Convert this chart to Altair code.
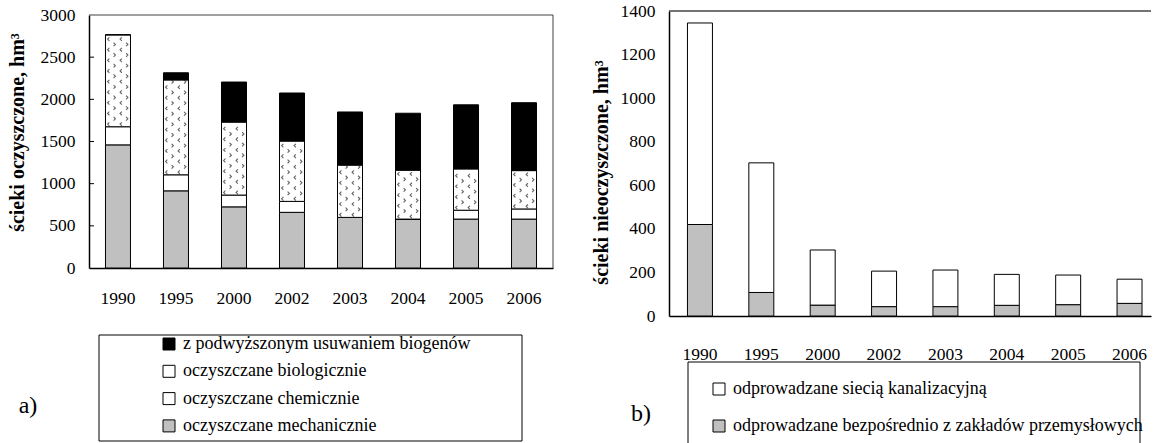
import altair as alt
import pandas as pd

# Lata i serie (hm3)
years = ["1990", "1995", "2000", "2002", "2003", "2004", "2005", "2006"]

# a) ścieki oczyszczone
mechaniczne = [1460, 915, 725, 660, 600, 580, 580, 580]
chemiczne = [215, 190, 140, 130, 0, 0, 105, 120]
biologiczne = [1090, 1125, 865, 715, 620, 580, 490, 455]
biogeny = [0, 85, 475, 570, 630, 675, 760, 805]

# b) ścieki nieoczyszczone
bezposrednio = [420, 108, 50, 43, 43, 49, 52, 58]
kanalizacja = [925, 595, 253, 163, 168, 142, 136, 111]

labels_a = [
    "z podwyższonym usuwaniem biogenów",
    "oczyszczane biologicznie",
    "oczyszczane chemicznie",
    "oczyszczane mechanicznie",
]
labels_b = [
    "odprowadzane siecią kanalizacyjną",
    "odprowadzane bezpośrednio z zakładów przemysłowych",
]
ticks_a = [0, 500, 1000, 1500, 2000, 2500, 3000]
ticks_b = [0, 200, 400, 600, 800, 1000, 1200, 1400]

FONT = "Liberation Serif"
GRAY = "#c0c0c0"
H_A, TOP_A = 257, 4   # panel a: view height and the inset of its 3000 line

# ---------- panel a ----------
series_a = [
    (labels_a[3], mechaniczne, 0),
    (labels_a[2], chemiczne, 1),
    (labels_a[1], biologiczne, 2),
    (labels_a[0], biogeny, 3),
]
df_a = pd.DataFrame(
    [{"rok": r, "rodzaj": name, "hm3": vals[i], "poz": p}
     for name, vals, p in series_a for i, r in enumerate(years)]
)

# chevron texture inside the "biologicznie" segments:
# rows of "<" alternate with rows of ">" shifted half a column
tex = []
step = 63
for i, r in enumerate(years):
    lo = mechaniczne[i] + chemiczne[i]
    hi = lo + biologiczne[i]
    v, k = lo + step / 2, 0
    while v < hi - step / 3:
        for kol in ([0, 1] if k % 2 == 0 else [2, 3]):
            tex.append({"rok": r, "kol": kol, "hm3": v})
        v += step
        k += 1
df_tex = pd.DataFrame(tex)

LT = "M0.5,-1L-0.5,0L0.5,1"   # "<"
GT = "M-0.5,-1L0.5,0L-0.5,1"  # ">"
columns_tex = [(0, -9.5, LT), (1, 3.0, LT), (2, -3.5, GT), (3, 9.0, GT)]
TEX_STYLE = dict(filled=False, size=13, strokeWidth=1.1, color="#222")

y_scale_a = alt.Scale(domain=[0, 3000], nice=False, range=[H_A, TOP_A])

x_a = alt.X(
    "rok:N", sort=years, title=None,
    scale=alt.Scale(paddingInner=0.569, paddingOuter=0.284),
    axis=alt.Axis(labelAngle=0, labelPadding=21),
)
y_a = alt.Y(
    "hm3:Q", stack="zero", title="ścieki oczyszczone, hm³",
    scale=y_scale_a,
    axis=alt.Axis(values=ticks_a, format="d", labelPadding=14,
                  titleX=-72, titleY=121, titleBaseline="middle"),
)

bars_a = alt.Chart(df_a).mark_bar(stroke="black", strokeWidth=1).encode(
    x=x_a,
    y=y_a,
    color=alt.Color(
        "rodzaj:N",
        scale=alt.Scale(domain=labels_a, range=["#000000", "#ffffff", "#ffffff", GRAY]),
        legend=alt.Legend(
            title=None, orient="none", legendX=71, legendY=324,
            rowPadding=9.3, labelOffset=5,
        ),
    ),
    order=alt.Order("poz:Q", sort="ascending"),
)

texture_layers = [
    alt.Chart(df_tex)
    .transform_filter(alt.datum.kol == kol)
    .mark_point(shape=path, xOffset=dx, **TEX_STYLE)
    .encode(x=alt.X("rok:N", sort=years), y=alt.Y("hm3:Q"))
    for kol, dx, path in columns_tex
]

# the same chevron inside the "oczyszczane biologicznie" legend swatch
legend_chevron = alt.Chart(pd.DataFrame({"a": [0]})).mark_point(shape=LT, **TEX_STYLE).encode(
    x=alt.value(77), y=alt.value(361)
)

inner_ticks = alt.Chart(pd.DataFrame({"hm3": ticks_a[1:-1]})).mark_rule(color="black", strokeWidth=1).encode(
    y=alt.Y("hm3:Q"), x=alt.value(0), x2=alt.value(5)
)

# top and right edges of the plot frame (at 3000 and at the far end of the x range)
top_a = alt.Chart(pd.DataFrame({"hm3": [3000]})).mark_rule(color="#404040", strokeWidth=1).encode(
    y=alt.Y("hm3:Q"), x=alt.value(0), x2=alt.value(464)
)
side_a = alt.Chart(pd.DataFrame({"hm3": [0], "hm3_top": [3000]})).mark_rule(color="#404040", strokeWidth=1).encode(
    y=alt.Y("hm3:Q"), y2="hm3_top:Q", x=alt.value(464)
)

frame_a = alt.Chart(pd.DataFrame({"a": [0]})).mark_rect(
    fill="transparent", stroke="black", strokeWidth=1
).encode(x=alt.value(10), x2=alt.value(433), y=alt.value(324), y2=alt.value(430))

tag_a = alt.Chart(pd.DataFrame({"a": [0]})).mark_text(
    text="a)", font=FONT, fontSize=24, color="black", align="center", baseline="middle"
).encode(x=alt.value(-61), y=alt.value(395))

left = alt.layer(
    bars_a, *texture_layers, inner_ticks, top_a, side_a, frame_a, tag_a, legend_chevron
).properties(width=464, height=H_A, view=alt.ViewBackground(stroke="transparent"))

# ---------- panel b ----------
series_b = [(labels_b[1], bezposrednio, 0), (labels_b[0], kanalizacja, 1)]
df_b = pd.DataFrame(
    [{"rok": r, "rodzaj": name, "hm3": vals[i], "poz": p}
     for name, vals, p in series_b for i, r in enumerate(years)]
)

x_b = alt.X(
    "rok:N", sort=years, title=None,
    scale=alt.Scale(paddingInner=0.593, paddingOuter=0.2235, align=0.673),
    axis=alt.Axis(labelAngle=0, labelPadding=29),
)
y_b = alt.Y(
    "hm3:Q", stack="zero", title="ścieki nieoczyszczone, hm³",
    scale=alt.Scale(domain=[0, 1400], nice=False),
    axis=alt.Axis(values=ticks_b, format="d", labelPadding=14,
                  titleX=-68, titleY=161, titleBaseline="middle"),
)

bars_b = alt.Chart(df_b).mark_bar(stroke="black", strokeWidth=1).encode(
    x=x_b,
    y=y_b,
    color=alt.Color(
        "rodzaj:N",
        scale=alt.Scale(domain=labels_b, range=["#ffffff", GRAY]),
        legend=alt.Legend(
            title=None, orient="none", legendX=41, legendY=369,
            rowPadding=19, labelOffset=5,
        ),
    ),
    order=alt.Order("poz:Q", sort="ascending"),
)

top_b = alt.Chart(pd.DataFrame({"hm3": [1400]})).mark_rule(color="#444", strokeWidth=1.5).encode(
    y=alt.Y("hm3:Q"), x=alt.value(0), x2=alt.value(482)
)

frame_b = alt.Chart(pd.DataFrame({"a": [0]})).mark_rect(
    fill="transparent", stroke="black", strokeWidth=1
).encode(x=alt.value(19), x2=alt.value(471), y=alt.value(351), y2=alt.value(440))

tag_b = alt.Chart(pd.DataFrame({"a": [0]})).mark_text(
    text="b)", font=FONT, fontSize=24, color="black", align="center", baseline="middle"
).encode(x=alt.value(-28), y=alt.value(403))

spacer_b = alt.Chart(pd.DataFrame({"a": [0]})).mark_rule(strokeOpacity=0).encode(
    x=alt.value(0), x2=alt.value(1), y=alt.value(-10)
)

right = alt.layer(bars_b, top_b, frame_b, tag_b, spacer_b).properties(
    width=482, height=305, view=alt.ViewBackground(stroke="transparent")
)

chart = (
    alt.hconcat(left, right, spacing=36)
    .resolve_scale(color="independent")
    .properties(padding={"left": 6, "top": 0, "right": 0, "bottom": 0}, background="white")
    .configure(font=FONT)
    .configure_axis(
        labelFont=FONT, labelFontSize=17.5, labelColor="black",
        titleFont=FONT, titleFontSize=20, titleFontWeight="bold", titleColor="black",
        domainColor="black", domainWidth=1.5, grid=False, ticks=False,
    )
    .configure_legend(
        labelFont=FONT, labelFontSize=18, labelColor="black", labelLimit=0,
        symbolType="square", symbolSize=144, symbolStrokeColor="black",
        symbolStrokeWidth=1, padding=0,
    )
)

chart.save("out.html", embed_options={"renderer": "svg", "actions": False})
